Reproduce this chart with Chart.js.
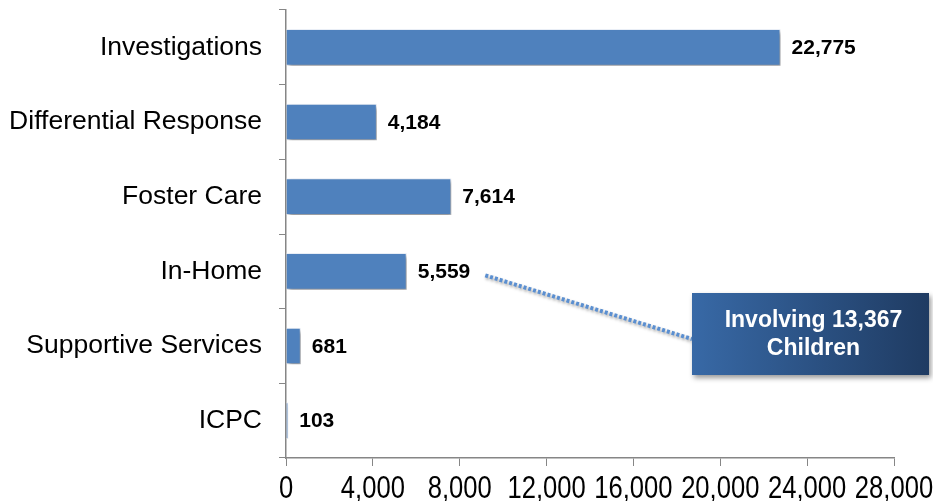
<!DOCTYPE html>
<html>
<head>
<meta charset="utf-8">
<script src="https://cdn.jsdelivr.net/npm/chart.js@4.4.1/dist/chart.umd.min.js"></script>
<style>
  body { margin: 0; background: #fff; }
  #wrap { width: 933px; height: 501px; position: relative; }
</style>
</head>
<body>
<div id="wrap"><canvas id="casesChart"></canvas></div>
<script>
// data
let categories = ["Investigations", "Differential Response", "Foster Care", "In-Home", "Supportive Services", "ICPC"];
let counts = [22775, 4184, 7614, 5559, 681, 103];
let xTickValues = [0, 4000, 8000, 12000, 16000, 20000, 24000, 28000];
let calloutLines = ["Involving 13,367", "Children"];
let calloutIndex = 3; // In-Home

let axisGray = "#868686";
let labelFont = "'Liberation Sans', Arial, sans-serif";

/**
 * bar shadow
 **/
let barShadow = {
    id: "barShadow",
    beforeDatasetsDraw(chart) {
        let ctx = chart.ctx;
        ctx.save();
        ctx.shadowColor = "rgba(0,0,0,0.4)";
        ctx.shadowBlur = 4;
        ctx.shadowOffsetX = 2;
        ctx.shadowOffsetY = 3;
    },
    afterDatasetsDraw(chart) {
        chart.ctx.restore();
    }
};

/**
 * x tick labels (narrow), value labels, callout
 **/
let valueLabels = {
    id: "valueLabels",
    afterDraw(chart) {
        let ctx = chart.ctx;
        let xs = chart.scales.x;
        ctx.save();
        ctx.font = "32px " + labelFont;
        ctx.fillStyle = "#000";
        ctx.textAlign = "center";
        ctx.textBaseline = "alphabetic";
        xs.ticks.forEach(function (t) {
            ctx.save();
            ctx.translate(xs.getPixelForValue(t.value), xs.top + 40);
            ctx.scale(0.8, 1);
            ctx.fillText(Number(t.value).toLocaleString("en-US"), 0, 0);
            ctx.restore();
        });
        ctx.restore();

        let meta = chart.getDatasetMeta(0);
        ctx.save();
        ctx.font = "bold 21px " + labelFont;
        ctx.fillStyle = "#000";
        ctx.textAlign = "left";
        ctx.textBaseline = "middle";
        let labelEnd = 0;
        meta.data.forEach(function (bar, i) {
            let txt = counts[i].toLocaleString("en-US");
            ctx.fillText(txt, bar.x + 11, bar.y + 1);
            if (i === calloutIndex) labelEnd = bar.x + 11 + ctx.measureText(txt).width;
        });

        // callout box
        let bx = 692, by = 293, bw = 237, bh = 82;
        let anchor = meta.data[calloutIndex];

        // dotted leader
        ctx.save();
        ctx.shadowColor = "rgba(0,0,0,0.35)";
        ctx.shadowBlur = 3;
        ctx.shadowOffsetX = 1;
        ctx.shadowOffsetY = 2;
        ctx.strokeStyle = "#5B8FD0";
        ctx.lineWidth = 4;
        ctx.setLineDash([3, 2]);
        ctx.beginPath();
        ctx.moveTo(labelEnd + 15, anchor.y + 4);
        ctx.lineTo(bx, by + 46);
        ctx.stroke();
        ctx.restore();

        ctx.save();
        ctx.shadowColor = "rgba(0,0,0,0.4)";
        ctx.shadowBlur = 5;
        ctx.shadowOffsetX = 2;
        ctx.shadowOffsetY = 3;
        let grad = ctx.createLinearGradient(bx, 0, bx + bw, 0);
        grad.addColorStop(0, "#3869A6");
        grad.addColorStop(1, "#1F3B62");
        ctx.fillStyle = grad;
        ctx.fillRect(bx, by, bw, bh);
        ctx.restore();

        ctx.fillStyle = "#fff";
        ctx.font = "bold 23px " + labelFont;
        ctx.textAlign = "center";
        ctx.fillText(calloutLines[0], bx + bw / 2 + 3, by + 28);
        ctx.fillText(calloutLines[1], bx + bw / 2 + 3, by + 56);
        ctx.restore();
    }
};

new Chart(document.querySelector("#casesChart"), {
    type: "bar",
    data: {
        labels: categories,
        datasets: [{
            label: "Cases",
            data: counts,
            backgroundColor: "#4F81BD",
            borderColor: "rgba(235,241,250,0.9)",
            borderWidth: 1,
            barPercentage: 0.49,
            categoryPercentage: 1
        }]
    },
    plugins: [barShadow, valueLabels],
    options: {
        indexAxis: "y",
        responsive: true,
        maintainAspectRatio: false,
        animation: false,
        layout: {
            padding: { top: 10, right: 39, bottom: 0, left: 0 }
        },
        plugins: {
            legend: { display: false },
            tooltip: { enabled: false }
        },
        scales: {
            y: {
                afterFit: function (scale) {
                    scale.width = 286;
                    scale.paddingTop = 0;
                    scale.paddingBottom = 0;
                },
                grid: {
                    drawOnChartArea: false,
                    drawTicks: true,
                    tickLength: 7,
                    color: axisGray,
                    offset: true
                },
                border: { display: true, color: axisGray, width: 1.5 },
                ticks: {
                    color: "#000",
                    padding: 17,
                    font: { family: labelFont, size: 26.5 }
                }
            },
            x: {
                min: 0,
                max: 28000,
                afterFit: function (scale) {
                    scale.height = 43;
                    scale.paddingLeft = 0;
                    scale.paddingRight = 0;
                },
                afterBuildTicks: function (scale) {
                    scale.ticks = xTickValues.map(function (v) { return { value: v }; });
                },
                grid: {
                    drawOnChartArea: false,
                    drawTicks: true,
                    tickLength: 8,
                    color: axisGray
                },
                border: { display: true, color: axisGray, width: 1.5 },
                ticks: {
                    display: false
                }
            }
        }
    }
});
</script>
</body>
</html>
